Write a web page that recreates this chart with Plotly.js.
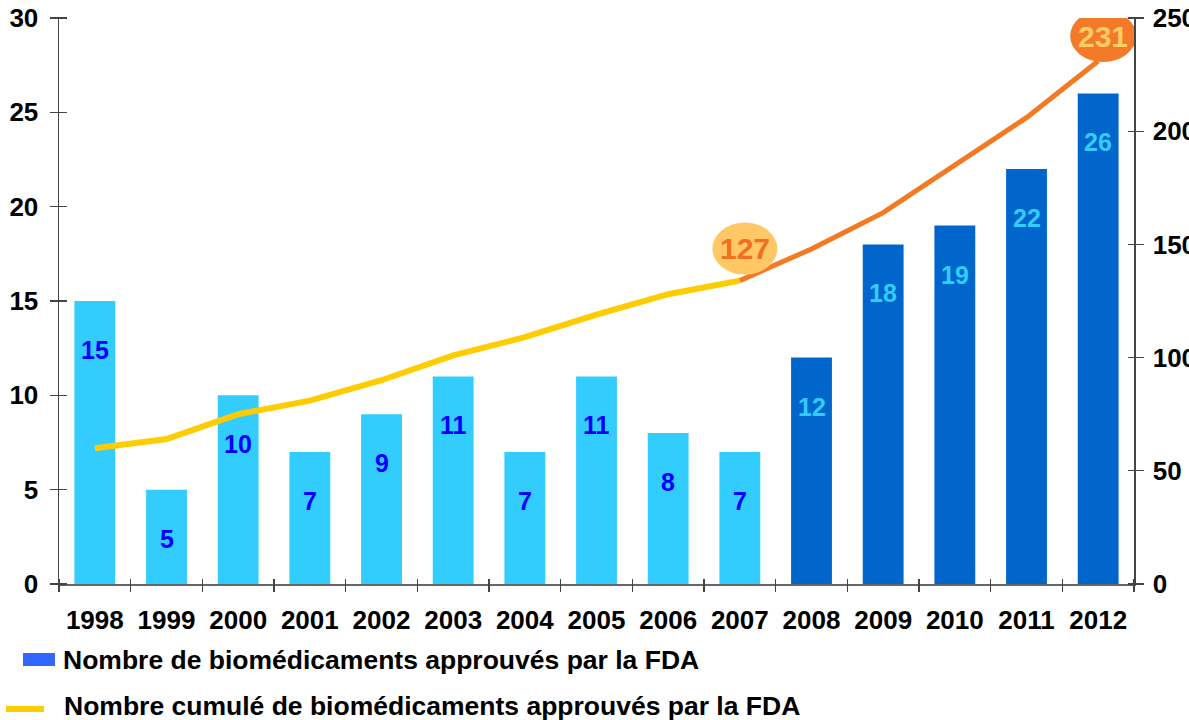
<!DOCTYPE html>
<html>
<head>
<meta charset="utf-8">
<script src="https://cdn.plot.ly/plotly-3.0.1.min.js"></script>
<style>html,body{margin:0;padding:0;background:#fff;}#chart{width:1189px;height:720px;}</style>
</head>
<body>
<div id="chart"></div>
<script>
// ---- data ----
const years = ['1998','1999','2000','2001','2002','2003','2004','2005','2006','2007','2008','2009','2010','2011','2012'];
const approvals = [15, 5, 10, 7, 9, 11, 7, 11, 8, 7, 12, 18, 19, 22, 26];
const cumulative = [60, 64, 75, 81, 90, 101, 109, 119, 128, 134, 148, 164, 185, 206, 231];
const splitYear = '2007';
const highlightYears = ['2007', '2012'];
const highlightLabels = ['127', '231'];
const legendLabels = ['Nombre de biomédicaments approuvés par la FDA', 'Nombre cumulé de biomédicaments approuvés par la FDA'];

// ---- styles ----
const FONT = 'Liberation Sans, Arial, Helvetica, sans-serif';
const LIGHT = '#33CCFF', DARK = '#0066CC';
const YELLOW = '#FFCC00', ORANGE = '#F37A22';
const W = 1189, H = 720, ML = 59, MR = 55, MT = 18, MB = 136;
const PW = W - ML - MR, PH = H - MT - MB;
const px2x = p => (p - ML) / PW;
const px2y = p => (H - MB - p) / PH;

const N = years.length;
const idx = years.map((y, i) => i);
const XR = [-0.5, N - 0.5];
const boundaries = idx.map(i => i - 0.5).concat([N - 0.5]);
const splitIdx = years.indexOf(splitYear);
const barColors = years.map((y, i) => i <= splitIdx ? LIGHT : DARK);
const labelColors = years.map((y, i) => i <= splitIdx ? '#0000FF' : LIGHT);

const traces = [
  {type: 'bar', x: idx, y: approvals, marker: {color: barColors}, xaxis: 'x', yaxis: 'y'},
  {type: 'scatter', mode: 'lines', x: idx.slice(0, splitIdx + 1), y: cumulative.slice(0, splitIdx + 1),
   line: {color: YELLOW, width: 6}, xaxis: 'x', yaxis: 'y2'},
  {type: 'scatter', mode: 'lines', x: idx.slice(splitIdx), y: cumulative.slice(splitIdx),
   line: {color: ORANGE, width: 5}, xaxis: 'x', yaxis: 'y2'},
  // invisible traces that carry the crossing-tick overlay axes
  {type: 'scatter', mode: 'none', x: idx, y: approvals, xaxis: 'x2', yaxis: 'y3', hoverinfo: 'skip'},
  {type: 'scatter', mode: 'none', x: idx, y: cumulative, xaxis: 'x2', yaxis: 'y4', hoverinfo: 'skip'}
];

const annotations = idx.map(i => ({
  x: i, y: approvals[i], xref: 'x', yref: 'y', text: String(approvals[i]), showarrow: false,
  yshift: -49, font: {family: FONT, size: 25, color: labelColors[i], weight: 'bold'}
}));

const bubbleStyles = [
  {fill: '#FFC864', text: '#F07020', dx: 5, dy: 32, w: 65, h: 52},
  {fill: '#F27A28', text: '#FFCC66', dx: 5, dy: 25, w: 66, h: 52}
];
const shapes = [];
highlightYears.forEach((yr, k) => {
  const i = years.indexOf(yr);
  const s = bubbleStyles[k];
  shapes.push({type: 'circle', xref: 'x', yref: 'y2', xsizemode: 'pixel', ysizemode: 'pixel',
    xanchor: i, yanchor: cumulative[i], x0: s.dx - s.w / 2, x1: s.dx + s.w / 2,
    y0: s.dy - s.h / 2, y1: s.dy + s.h / 2, fillcolor: s.fill, line: {width: 0}, layer: 'above'});
  annotations.push({x: i, y: cumulative[i], xref: 'x', yref: 'y2', text: highlightLabels[k], showarrow: false,
    xshift: s.dx, yshift: s.dy, font: {family: FONT, size: 30, color: s.text, weight: 'bold'}});
});

// legend
shapes.push({type: 'rect', xref: 'paper', yref: 'paper', x0: px2x(23), x1: px2x(55), y0: px2y(666), y1: px2y(653),
  fillcolor: '#3366FF', line: {width: 0}});
shapes.push({type: 'line', xref: 'paper', yref: 'paper', x0: px2x(6), x1: px2x(44), y0: px2y(709), y1: px2y(709),
  line: {color: YELLOW, width: 6}});
annotations.push({xref: 'paper', yref: 'paper', x: px2x(61), y: px2y(660), xanchor: 'left', yanchor: 'middle',
  text: legendLabels[0], showarrow: false, font: {family: FONT, size: 26.5, color: '#000', weight: 'bold'}});
annotations.push({xref: 'paper', yref: 'paper', x: px2x(62), y: px2y(706), xanchor: 'left', yanchor: 'middle',
  text: legendLabels[1], showarrow: false, font: {family: FONT, size: 26.5, color: '#000', weight: 'bold'}});

const tickFont = {family: FONT, size: 26, color: '#000', weight: 'bold'};
const TC = '#444';
const layout = {
  width: W, height: H, margin: {l: ML, r: MR, t: MT, b: MB, pad: 0},
  paper_bgcolor: '#fff', plot_bgcolor: '#fff', showlegend: false, bargap: 0.43,
  font: {family: FONT},
  xaxis: {range: XR, tickmode: 'array', tickvals: idx, ticktext: years, ticks: '', tickangle: 0,
    showline: true, linecolor: '#666', linewidth: 1.5, showgrid: false,
    zeroline: false, tickfont: tickFont, ticklabelstandoff: 12},
  xaxis2: {range: XR, overlaying: 'x', anchor: 'free', position: px2y(578), side: 'bottom',
    tickmode: 'array', tickvals: boundaries, ticks: 'outside', ticklen: 13, tickcolor: TC, tickwidth: 1.2,
    showticklabels: false, showgrid: false, zeroline: false, showline: false},
  yaxis: {range: [0, 30], dtick: 5, ticks: 'outside', ticklen: 8, tickcolor: TC, tickwidth: 1.2,
    showline: true, linecolor: '#444', linewidth: 1.5, showgrid: false, zeroline: false,
    tickfont: tickFont, ticklabelstandoff: 6},
  yaxis2: {range: [0, 250], dtick: 50, overlaying: 'y', side: 'right', anchor: 'x', ticks: 'outside', ticklen: 8,
    tickcolor: TC, tickwidth: 1.2, showline: true, linecolor: '#444', linewidth: 1.5, showgrid: false,
    zeroline: false, tickfont: tickFont, ticklabelstandoff: 4},
  yaxis3: {range: [0, 30], dtick: 5, overlaying: 'y', anchor: 'free', position: px2x(67), side: 'left',
    ticks: 'outside', ticklen: 16, tickcolor: TC, tickwidth: 1.2, showticklabels: false, showgrid: false,
    zeroline: false, showline: false},
  yaxis4: {range: [0, 250], dtick: 50, overlaying: 'y', anchor: 'free', position: px2x(1127), side: 'right',
    ticks: 'outside', ticklen: 15, tickcolor: TC, tickwidth: 1.2, showticklabels: false, showgrid: false,
    zeroline: false, showline: false},
  shapes: shapes,
  annotations: annotations
};

Plotly.newPlot('chart', traces, layout, {displayModeBar: false, staticPlot: true});
</script>
</body>
</html>
